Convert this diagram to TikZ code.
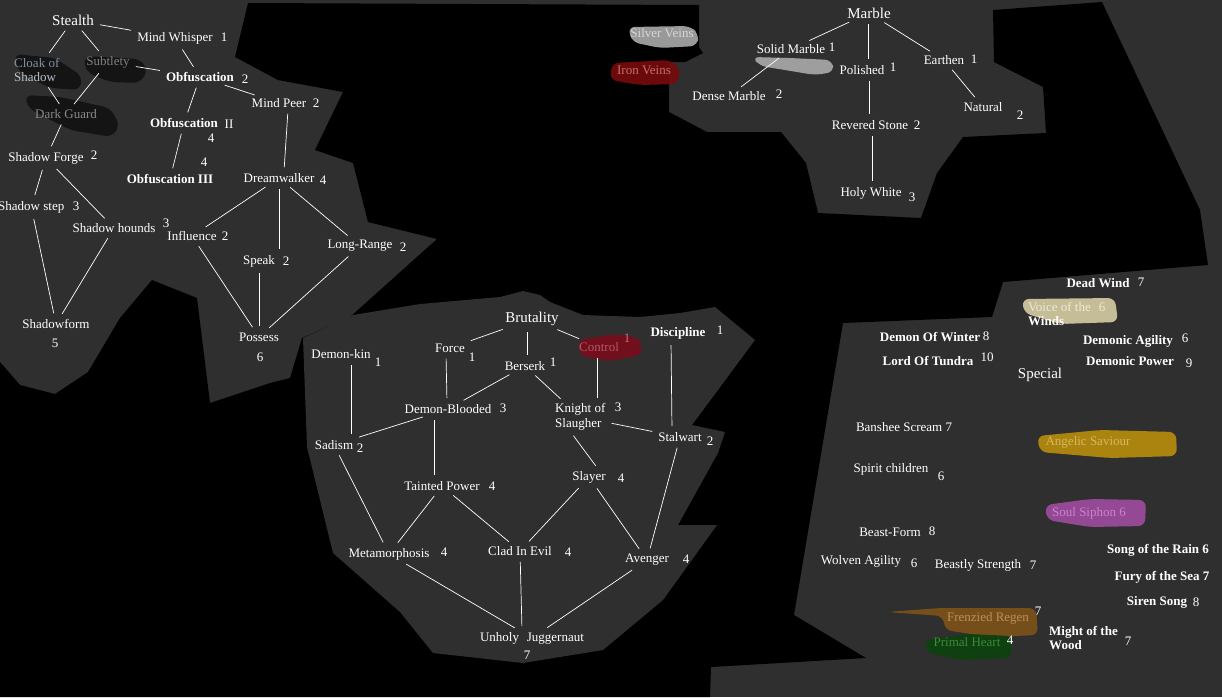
\documentclass[tikz,border=0pt]{standalone}
\usepackage{fontspec}
\setmainfont{Liberation Serif}
\usepackage{tikz}

\definecolor{panelgray}{RGB}{47, 47, 47}
\definecolor{inkblack}{RGB}{18, 18, 18}
\definecolor{silvergray}{RGB}{170, 170, 170}
\definecolor{ironred}{RGB}{120, 10, 12}
\definecolor{marblewhite}{RGB}{196, 196, 196}
\definecolor{controlred}{RGB}{122, 12, 26}
\definecolor{windbeige}{RGB}{214, 204, 164}
\definecolor{angelgold}{RGB}{184, 142, 12}
\definecolor{soulpurple}{RGB}{158, 76, 158}
\definecolor{regenbrown}{RGB}{126, 82, 24}
\definecolor{heartgreen}{RGB}{12, 66, 12}

\newcommand{\skillfont}{\fontsize{13}{14.5}\selectfont}
\newcommand{\treefont}{\fontsize{15}{17}\selectfont}

\tikzset{
  skill/.style={text=white, font=\skillfont, inner sep=2pt},
  bskill/.style={skill, font=\skillfont\bfseries},
  cost/.style={text=white, font=\skillfont, inner sep=1pt},
  tree/.style={text=white, font=\treefont, inner sep=2pt},
  link/.style={draw=white, line width=0.7pt, shorten >=4pt, shorten <=4pt},
  smear/.style={rounded corners=7pt, fill opacity=0.9}
}

\begin{document}
\begin{tikzpicture}[x=1pt, y=-1pt]
  \useasboundingbox (0,0) rectangle (1222,697);

  % Panels
  \fill[panelgray] (0,0) rectangle (1222,697);
  \fill[black] (248,3) -- (699,5) -- (699,47) -- (703,53) -- (685,62) -- (669,62) -- (669,112)
    -- (707,132) -- (781,132) -- (806,163) -- (818,213) -- (921,218) -- (937,173) -- (963,137)
    -- (1046,133) -- (1043,87) -- (994,62) -- (993,10) -- (1102,2) -- (1200,210) -- (1208,265)
    -- (1003,282) -- (992,317) -- (843,323) -- (794,615) -- (866,658) -- (711,667) -- (710,697)
    -- (0,697) -- (0,362) -- (20,385) -- (55,394) -- (88,372) -- (120,318) -- (152,280)
    -- (197,298) -- (210,403) -- (270,383) -- (290,378) -- (302,338) -- (350,317) -- (437,239)
    -- (368,222) -- (353,163) -- (315,150) -- (343,92) -- (278,80) -- (235,57) -- cycle;
  \fill[panelgray] (303,338) -- (353,315) -- (420,304) -- (500,297) -- (523,291) -- (540,295)
    -- (550,302) -- (583,315) -- (640,317) -- (680,313) -- (715,307) -- (755,340) -- (692,425)
    -- (725,432) -- (718,453) -- (678,525) -- (717,525) -- (663,600) -- (603,650) -- (523,663)
    -- (433,653) -- (400,612) -- (333,553) -- (307,447) -- cycle;

  % Smears
  \fill[smear, inkblack] (14,54) -- (55,58) -- (82,76) -- (80,90) -- (50,88) -- (19,72) -- cycle;
  \fill[smear, inkblack] (84,56) -- (140,59) -- (148,70) -- (140,83) -- (110,82) -- (86,72) -- cycle;
  \fill[smear, inkblack] (25,95) -- (60,97) -- (110,108) -- (120,125) -- (112,137) -- (70,130) -- (28,108) -- cycle;
  \fill[smear, silvergray] (628,27) -- (690,26) -- (699,34) -- (697,46) -- (660,48) -- (632,42) -- cycle;
  \fill[smear, ironred] (612,63) -- (670,60) -- (680,68) -- (678,84) -- (640,85) -- (610,80) -- cycle;
  \fill[smear, marblewhite, fill opacity=0.75] (752,57) -- (790,58) -- (832,60) -- (834,72) -- (815,75) -- (785,70) -- (760,66) -- cycle;
  \fill[smear, controlred] (578,340) -- (615,334) -- (640,338) -- (642,355) -- (610,361) -- (580,356) -- cycle;
  \fill[smear, windbeige] (1022,299) -- (1115,298) -- (1118,322) -- (1060,324) -- (1024,313) -- cycle;
  \fill[smear, angelgold] (1037,436) -- (1100,430) -- (1176,432) -- (1177,456) -- (1110,458) -- (1040,452) -- cycle;
  \fill[smear, soulpurple] (1045,505) -- (1090,499) -- (1146,500) -- (1145,526) -- (1090,527) -- (1047,520) -- cycle;
  \fill[smear, regenbrown] (887,612) -- (940,608) -- (1036,608) -- (1038,635) -- (990,637) -- (945,630) -- (943,616) -- cycle;
  \fill[smear, heartgreen] (925,640) -- (970,634) -- (1012,636) -- (1011,658) -- (960,660) -- (926,652) -- cycle;

  % Stealth tree
  \node[tree] (stealth) at (73,20) {Stealth};
  \node[skill] (mindwhisper) at (175,38) {Mind Whisper};
  \node[cost] at (224,37) {1};
  \node[skill, align=left, anchor=west] (cloak) at (12,70) {\textcolor[RGB]{128,144,160}{Cloak of}\\\textcolor[RGB]{184,192,200}{Shadow}};
  \node[skill, text={rgb,255:red,128;green,128;blue,128}] (subtlety) at (108,62) {Subtlety};
  \node[bskill] (obfusc) at (200,77) {Obfuscation};
  \node[cost] at (245,79) {2};
  \node[skill] (mindpeer) at (279,103) {Mind Peer};
  \node[cost] at (316,103) {2};
  \node[skill, text={rgb,255:red,138;green,138;blue,138}] (darkguard) at (66,114) {Dark Guard};
  \node[bskill] (obfii) at (184,123) {Obfuscation};
  \node[cost] at (229,124) {II};
  \node[cost] at (211,138) {4};
  \node[cost] at (204,162) {4};
  \node[bskill] (obfiii) at (170,179) {Obfuscation III};
  \node[skill] (shadowforge) at (46,158) {Shadow Forge};
  \node[cost] at (94,155) {2};
  \node[skill] (dreamwalker) at (279,178) {Dreamwalker};
  \node[cost] at (323,180) {4};
  \node[skill, anchor=west] (shadowstep) at (-4,207) {Shadow step};
  \node[cost] at (76,206) {3};
  \node[skill] (shadowhounds) at (114,228) {Shadow hounds};
  \node[cost] at (166,223) {3};
  \node[skill] (influence) at (192,236) {Influence};
  \node[cost] at (225,236) {2};
  \node[skill] (speak) at (259,261) {Speak};
  \node[cost] at (286,261) {2};
  \node[skill] (longrange) at (360,246) {Long-Range};
  \node[cost] at (403,247) {2};
  \node[skill] (shadowform) at (56,324) {Shadowform};
  \node[cost] at (55,343) {5};
  \node[skill] (possess) at (259,337) {Possess};
  \node[cost] at (260,357) {6};

  \draw[link] (stealth) -- (cloak);
  \draw[link] (stealth) -- (subtlety);
  \draw[link] (stealth) -- (mindwhisper);
  \draw[link] (mindwhisper) -- (obfusc);
  \draw[link] (subtlety) -- (obfusc);
  \draw[link] (cloak) -- (darkguard);
  \draw[link] (subtlety) -- (darkguard);
  \draw[link] (obfusc) -- (obfii);
  \draw[link] (obfusc) -- (mindpeer);
  \draw[link] (darkguard) -- (shadowforge);
  \draw[link] (obfii) -- (obfiii);
  \draw[link] ([xshift=9pt]mindpeer.south) -- ([xshift=5pt]dreamwalker.north);
  \draw[link] (shadowforge) -- (shadowstep);
  \draw[link] (shadowforge) -- (shadowhounds);
  \draw[link] (dreamwalker) -- (influence);
  \draw[link] (dreamwalker.south) -- (dreamwalker.south |- speak.north);
  \draw[link] (dreamwalker) -- (longrange);
  \draw[link] (shadowstep) -- (shadowform);
  \draw[link] (shadowhounds) -- (shadowform);
  \draw[link] (influence) -- (possess);
  \draw[link] (speak) -- (possess);
  \draw[link] (longrange) -- (possess);

  % Marble tree
  \node[tree] (marble) at (869,13) {Marble};
  \node[skill, text={rgb,255:red,214;green,214;blue,214}] (silver) at (662,33) {Silver Veins};
  \node[skill, text={rgb,255:red,196;green,112;blue,112}] (iron) at (644,70) {Iron Veins};
  \node[skill] (solidmarble) at (791,49) {Solid Marble};
  \node[cost] at (832,47) {1};
  \node[skill] (polished) at (862,70) {Polished};
  \node[cost] at (893,67) {1};
  \node[skill] (earthen) at (944,60) {Earthen};
  \node[cost] at (974,59) {1};
  \node[skill] (densemarble) at (729,96) {Dense Marble};
  \node[cost] at (779,94) {2};
  \node[skill] (natural) at (983,107) {Natural};
  \node[cost] at (1020,115) {2};
  \node[skill] (revered) at (870,125) {Revered Stone};
  \node[cost] at (917,125) {2};
  \node[skill] (holywhite) at (871,193) {Holy White};
  \node[cost] at (912,197) {3};

  \draw[link] (marble) -- (solidmarble);
  \draw[link] (marble.south -| polished.north) ++(6,0) -- ([xshift=6pt]polished.north);
  \draw[link] (marble) -- (earthen);
  \draw[link] (solidmarble) -- (densemarble);
  \draw[link] ([xshift=7pt]polished.south) -- ([xshift=-1pt]revered.north);
  \draw[link] (earthen) -- (natural);
  \draw[link] ([xshift=2pt]revered.south) -- ([xshift=1pt]holywhite.north);

  % Brutality tree
  \node[tree] (brutality) at (532,319) {Brutality};
  \node[skill] (force) at (450,348) {Force};
  \node[cost] at (472,357) {1};
  \node[skill] (berserk) at (525,366) {Berserk};
  \node[cost] at (553,362) {1};
  \node[skill, text={rgb,255:red,176;green,88;blue,104}] (control) at (599,347) {Control};
  \node[cost, text={rgb,255:red,192;green,112;blue,128}] at (627,338) {1};
  \node[bskill] (discipline) at (678,333) {Discipline};
  \node[cost] at (720,330) {1};
  \node[skill] (demonkin) at (341,354) {Demon-kin};
  \node[cost] at (378,362) {1};
  \node[skill] (demonblooded) at (448,409) {Demon-Blooded};
  \node[cost] at (503,408) {3};
  \node[skill, align=left, anchor=west] (knight) at (553,417) {Knight of\\Slaugher};
  \node[cost] at (618,407) {3};
  \node[skill] (sadism) at (334,445) {Sadism};
  \node[cost] at (360,448) {2};
  \node[skill] (stalwart) at (680,437) {Stalwart};
  \node[cost] at (710,441) {2};
  \node[skill] (tainted) at (442,486) {Tainted Power};
  \node[cost] at (492,486) {4};
  \node[skill] (slayer) at (589,477) {Slayer};
  \node[cost] at (621,478) {4};
  \node[skill] (metamorph) at (389,554) {Metamorphosis};
  \node[cost] at (444,552) {4};
  \node[skill] (clad) at (520,551) {Clad In Evil};
  \node[cost] at (568,552) {4};
  \node[skill] (avenger) at (647,560) {Avenger};
  \node[cost] at (686,559) {4};
  \node[skill] (unholy) at (532,638) {Unholy\hspace{0.6em}Juggernaut};
  \node[cost] at (527,655) {7};

  \draw[link] (brutality) -- (force);
  \draw[link] ([xshift=-5pt]brutality.south) -- ([xshift=2pt]berserk.north);
  \draw[link] (brutality) -- (control);
  \draw[link] ([xshift=-4pt]force.south) -- ([xshift=-1pt]demonblooded.north);
  \draw[link] (berserk) -- (demonblooded);
  \draw[link] (berserk) -- (knight);
  \draw[link] ([xshift=-2pt]control.south) -- ([xshift=-2pt]control.south |- knight.north);
  \draw[link] ([xshift=-7pt]discipline.south) -- ([xshift=-8pt]stalwart.north);
  \draw[link] ([xshift=10pt]demonkin.south) -- ([xshift=17pt]sadism.north);
  \draw[link] (demonblooded) -- (sadism);
  \draw[link] (knight) -- (stalwart);
  \draw[link] ([xshift=-14pt]demonblooded.south) -- ([xshift=-8pt]tainted.north);
  \draw[link] ([xshift=18pt]knight.south west) -- ([xshift=9pt]slayer.north);
  \draw[link] (sadism) -- (metamorph);
  \draw[link] (tainted) -- (metamorph);
  \draw[link] (tainted) -- (clad);
  \draw[link] (slayer) -- (clad);
  \draw[link] (slayer) -- (avenger);
  \draw[link] (stalwart) -- (avenger);
  \draw[link] (metamorph) -- (unholy);
  \draw[link] (clad) -- ([xshift=-10pt]unholy.north);
  \draw[link] (avenger) -- (unholy);

  % Special
  \node[tree] (special) at (1040,375) {Special};
  \node[bskill] (deadwind) at (1098,283) {Dead Wind};
  \node[cost] at (1141,282) {7};
  \node[skill, align=left, anchor=west] (voice) at (1026,314) {\textcolor[RGB]{240,234,208}{Voice of the}\\\textbf{Winds}};
  \node[cost, text={rgb,255:red,240;green,234;blue,208}] at (1102,307) {6};
  \node[bskill] (demonwinter) at (930,337) {Demon Of Winter};
  \node[cost] at (986,336) {8};
  \node[bskill] (lordtundra) at (928,361) {Lord Of Tundra};
  \node[cost] at (987,357) {10};
  \node[bskill] (demonagility) at (1128,341) {Demonic Agility};
  \node[cost] at (1185,338) {6};
  \node[bskill] (demonpower) at (1130,361) {Demonic Power};
  \node[cost] at (1189,363) {9};
  \node[skill] (banshee) at (904,427) {Banshee Scream 7};
  \node[skill, text={rgb,255:red,216;green,184;blue,96}] (angelic) at (1088,442) {Angelic Saviour};
  \node[skill] (spirit) at (891,469) {Spirit children};
  \node[cost] at (941,476) {6};
  \node[skill, text={rgb,255:red,208;green,128;blue,208}] (soulsiphon) at (1089,513) {Soul Siphon 6};
  \node[skill] (beastform) at (890,532) {Beast-Form};
  \node[cost] at (932,531) {8};
  \node[bskill] (songrain) at (1158,550) {Song of the Rain 6};
  \node[skill] (wolven) at (861,561) {Wolven Agility};
  \node[cost] at (914,563) {6};
  \node[skill] (beastly) at (978,565) {Beastly Strength};
  \node[cost] at (1033,565) {7};
  \node[bskill] (fury) at (1162,577) {Fury of the Sea 7};
  \node[bskill] (siren) at (1157,602) {Siren Song};
  \node[cost] at (1196,602) {8};
  \node[skill, text={rgb,255:red,184;green,144;blue,96}] (frenzied) at (988,618) {Frenzied Regen};
  \node[cost] at (1038,611) {7};
  \node[skill, text={rgb,255:red,60;green,138;blue,60}] (primal) at (967,642) {Primal Heart};
  \node[cost] at (1010,640) {4};
  \node[bskill, align=left, anchor=west] (might) at (1047,638) {Might of the\\Wood};
  \node[cost] at (1128,641) {7};
\end{tikzpicture}
\end{document}
